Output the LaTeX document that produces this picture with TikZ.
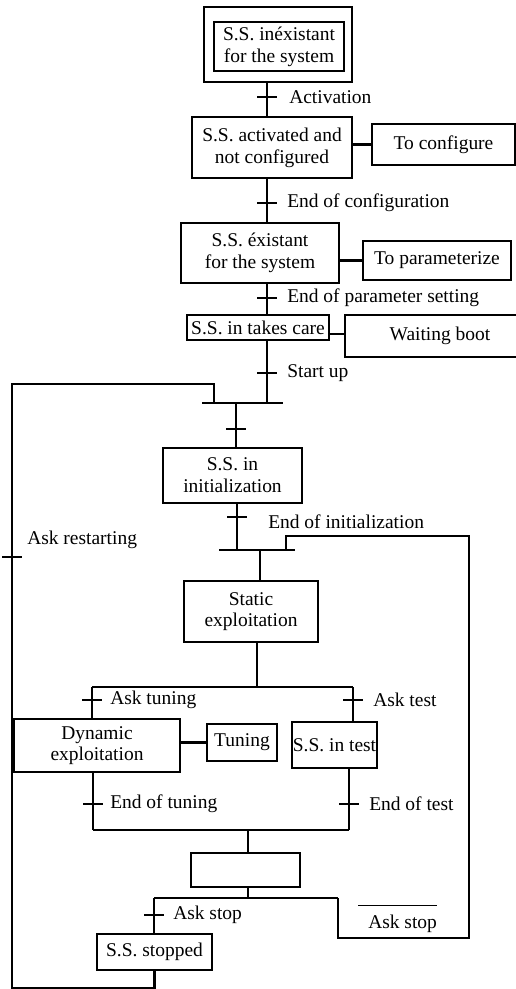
\documentclass[tikz,border=0pt]{standalone}
\usepackage{fontspec}
\setmainfont{Liberation Serif}
\usetikzlibrary{positioning}

\tikzset{
  stepbox/.style={draw, line width=1.9pt, align=center, inner sep=0pt,
    font=\fontsize{14.6}{16.3}\selectfont},
  cond/.style={anchor=west, inner sep=0pt, font=\fontsize{14.6}{16.3}\selectfont},
  wire/.style={line width=1.9pt},
  tickmark/.style={line width=1.9pt},
}

\begin{document}
\begin{tikzpicture}[x=0.75pt,y=-0.75pt]
\useasboundingbox (0,0) rectangle (516,989);
\clip (0,0) rectangle (516,989);

% steps
\node[stepbox, minimum width=111pt, minimum height=56.25pt] (init0) at (278,44.5) {};
\node[stepbox, minimum width=97.5pt, minimum height=36.75pt] (init) at (279,46.5) {S.S. inéxistant\\for the system};
\node[stepbox, minimum width=120pt, minimum height=45.75pt] (act) at (272,147.5) {S.S. activated and\\not configured};
\node[stepbox, minimum width=118.5pt, minimum height=45pt] (exist) at (260,253) {S.S. éxistant\\for the system};
\node[stepbox, minimum width=106.5pt, minimum height=18.75pt] (care) at (258,327.5) {S.S. in takes care};
\node[stepbox, minimum width=104.25pt, minimum height=41.25pt] (initz) at (232.5,475.5) {S.S. in\\initialization};
\node[stepbox, minimum width=100.5pt, minimum height=45.75pt] (static) at (251,611.5) {Static\\exploitation};
\node[stepbox, minimum width=124.5pt, minimum height=39.75pt] (dyn) at (97,745.5) {Dynamic\\exploitation};
\node[stepbox, minimum width=63.75pt, minimum height=34.5pt] (test) at (334.5,745) {S.S. in test};
\node[stepbox, minimum width=81.75pt, minimum height=25.5pt] (empty) at (245.5,870) {};
\node[stepbox, minimum width=86.25pt, minimum height=27pt] (stop) at (154.5,952) {S.S. stopped};

% actions
\node[stepbox, minimum width=107.25pt, minimum height=30.75pt] (conf) at (443.5,144.5) {To configure};
\node[stepbox, minimum width=111pt, minimum height=29.25pt] (param) at (437,260.5) {To parameterize};
\node[stepbox, minimum width=142.5pt, minimum height=31.5pt] (boot) at (440,336) {Waiting boot};
\node[stepbox, minimum width=52.5pt, minimum height=27.75pt] (tune) at (242,742.5) {Tuning};

\draw[wire] (act.east |- conf) -- (conf.west);
\draw[wire] (exist.east |- param) -- (param.west);
\draw[wire] (care.east |- 0,334) -- (boot.west |- 0,334);
\draw[wire] (dyn.east |- tune) -- (tune.west);

% transitions
\coordinate (t1) at (267,97);
\coordinate (t2) at (267,203);
\coordinate (t3) at (267,298);
\coordinate (t4) at (267,373);
\coordinate (t5) at (236,429);
\coordinate (t6) at (237,517);
\coordinate (t7) at (92,700);
\coordinate (t8) at (353,700);
\coordinate (t9) at (93,804);
\coordinate (t10) at (349,804);
\coordinate (t11) at (154,915);
\coordinate (t12) at (12,557);

% bars
\coordinate (bar1w) at (202,403);
\coordinate (bar1e) at (283,403);
\coordinate (bar2w) at (219,550);
\coordinate (bar2e) at (295,550);
\coordinate (bar2c) at (260,550);
\coordinate (div1w) at (92,687);
\coordinate (div1e) at (353,687);
\coordinate (div1c) at (257,687);
\coordinate (bar3w) at (93,830);
\coordinate (bar3e) at (349,830);
\coordinate (bar3c) at (248,830);
\coordinate (div2w) at (154,898);
\coordinate (div2e) at (338,898);
\coordinate (div2c) at (248,898);

% loops
\coordinate (loopl) at (12,988);
\coordinate (loopt) at (214,384);
\coordinate (loopr) at (469,938);
\coordinate (rjoin) at (286,536);

\draw[wire] (init0.south -| t1) -- (act.north -| t1);
\draw[wire] (act.south -| t2) -- (exist.north -| t2);
\draw[wire] (exist.south -| t3) -- (care.north -| t3);
\draw[wire] (care.south -| t4) -- (t4 |- bar1w);
\draw[wire] (bar1w) -- (bar1e);
\draw[wire] (t5 |- bar1w) -- (initz.north -| t5);
\draw[wire] (initz.south -| t6) -- (t6 |- bar2w);
\draw[wire] (bar2w) -- (bar2e);
\draw[wire] (bar2c) -- (static.north -| bar2c);
\draw[wire] (static.south -| div1c) -- (div1c);
\draw[wire] (div1w) -- (div1e);
\draw[wire] (div1w) -- (dyn.north -| div1w);
\draw[wire] (div1e) -- (test.north -| div1e);
\draw[wire] (dyn.south -| t9) -- (t9 |- bar3w);
\draw[wire] (test.south -| t10) -- (t10 |- bar3e);
\draw[wire] (bar3w) -- (bar3e);
\draw[wire] (bar3c) -- (empty.north -| bar3c);
\draw[wire] (empty.south -| div2c) -- (div2c);
\draw[wire] (div2w) -- (div2e);
\draw[wire] (div2w) -- (stop.north -| div2w);
\draw[wire] (stop.south) |- (loopl) -- (loopl |- loopt) -- (loopt) -- (loopt |- bar1w);
\draw[wire] (div2e) |- (loopr) |- (rjoin) -- (rjoin |- bar2w);

\foreach \t in {t1,t2,t3,t4,t5,t6,t7,t8,t9,t10,t11,t12}
  \draw[tickmark] (\t) +(-10,0) -- +(10,0);

% receptivities
\node[cond] (c1) at (289,97) {Activation};
\node[cond] (c2) at (287,203) {End of configuration};
\node[cond] (c3) at (287,298) {End of parameter setting};
\node[cond] (c4) at (287,373) {Start up};
\node[cond] (c6) at (268,522) {End of initialization};
\node[cond] (c7) at (110,700) {Ask tuning};
\node[cond] (c8) at (373,700) {Ask test};
\node[cond] (c9) at (110,804) {End of tuning};
\node[cond] (c10) at (369,804) {End of test};
\node[cond] (c11) at (173,915) {Ask stop};
\node[cond] (c12) at (27,540) {Ask restarting};
\node[cond] (c13) at (368,924) {Ask stop};
\draw[line width=1.2pt] ([xshift=-7.5pt,yshift=7pt]c13.north west) -- ([yshift=7pt]c13.north east);
\end{tikzpicture}
\end{document}
